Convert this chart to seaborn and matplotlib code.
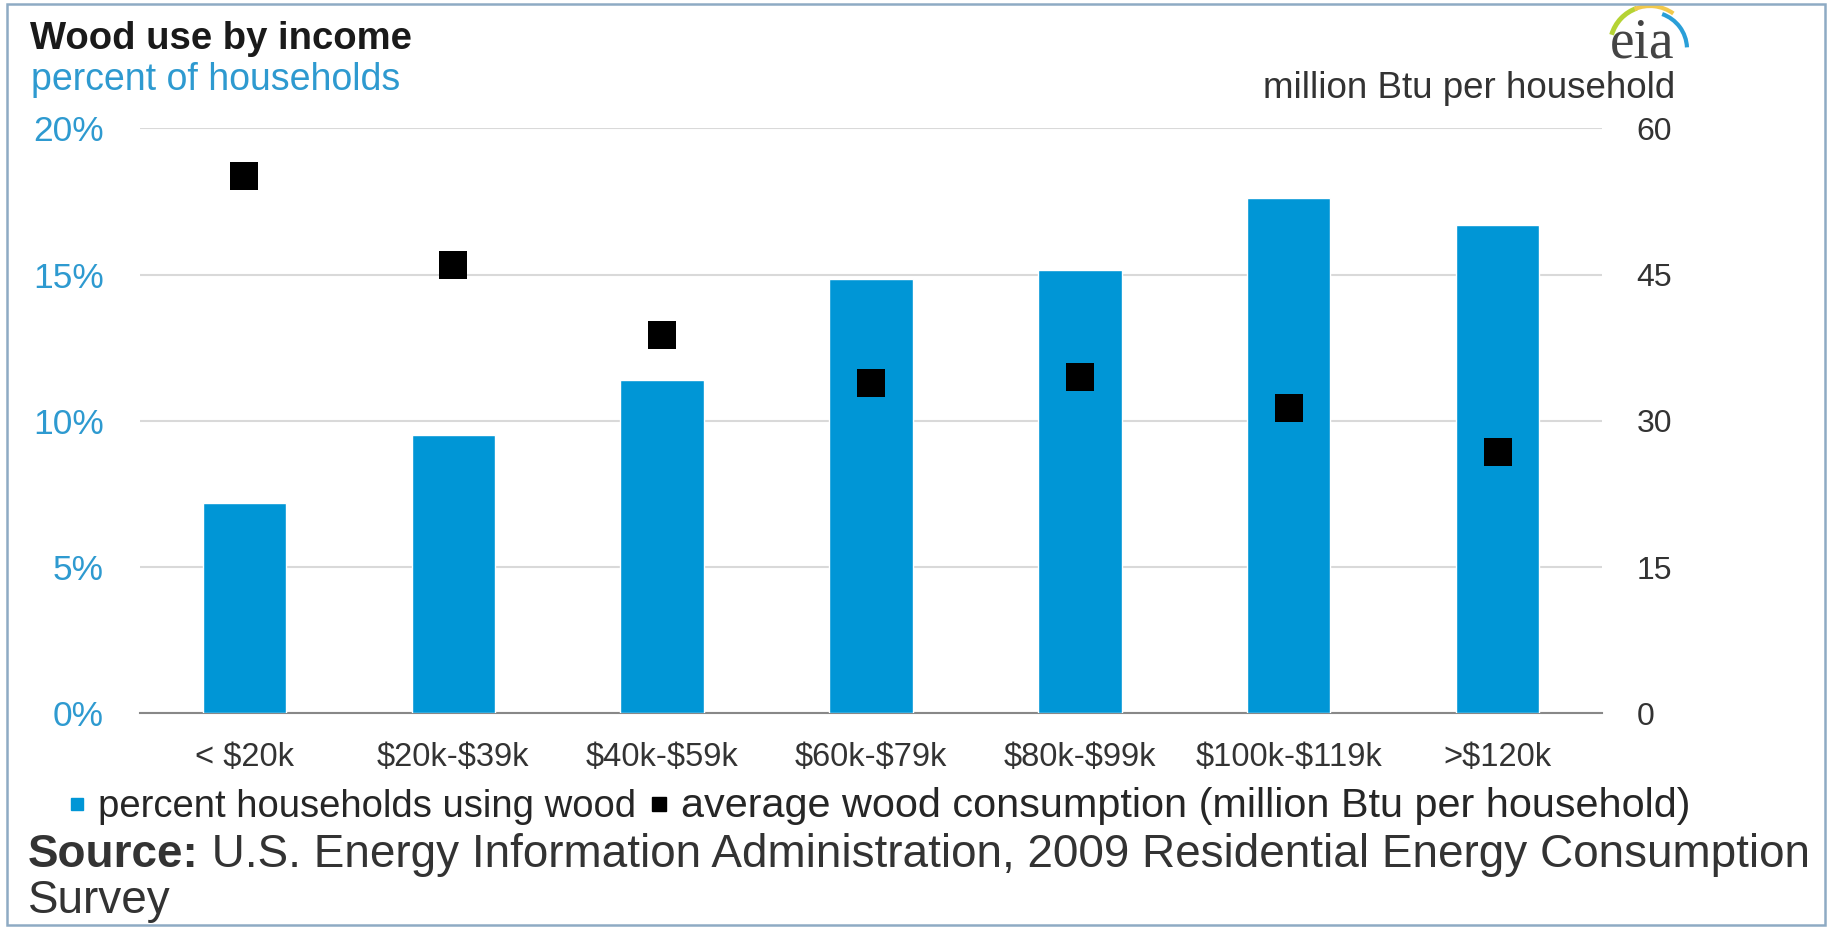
import numpy as np
import matplotlib
matplotlib.use("Agg")
import matplotlib.pyplot as plt
import seaborn as sns
from matplotlib.lines import Line2D
from matplotlib.patches import Rectangle, Arc

# ---------------- data ----------------
categories = ["< $20k", "$20k-$39k", "$40k-$59k", "$60k-$79k",
              "$80k-$99k", "$100k-$119k", ">$120k"]
pct_households = [7.2, 9.5, 11.4, 14.85, 15.15, 17.6, 16.7]          # percent of households
avg_consumption = [55.1, 46.0, 38.8, 33.9, 34.5, 31.3, 26.8]         # million Btu per household
left_ticks = [0, 5, 10, 15, 20]
left_labels = ["0%", "5%", "10%", "15%", "20%"]
right_ticks = [0, 15, 30, 45, 60]
right_labels = ["0", "15", "30", "45", "60"]
legend_labels = ["percent households using wood",
                 "average wood consumption (million Btu per household)"]

# ---------------- style ----------------
sns.set_theme(style="white")
plt.rcParams['font.family'] = ['Liberation Sans', 'DejaVu Sans']
plt.rcParams['text.parse_math'] = False

W, H = 1831, 927
DPI = 100
BLUE = "#0096D6"
LBLUE = "#2E9AD0"
DARK = "#333333"

fig = plt.figure(figsize=(W / DPI, H / DPI), dpi=DPI)
fig.patch.set_facecolor("white")

def fx(px):
    return px / W

def fy(py):
    return 1 - py / H

ax_left, ax_right, ax_top, ax_bot = 140, 1602, 128.3, 713.3
ax = fig.add_axes([fx(ax_left), fy(ax_bot), fx(ax_right - ax_left), (ax_bot - ax_top) / H])

sns.barplot(x=categories, y=pct_households, order=categories, ax=ax,
            color=BLUE, saturation=1, width=0.4, zorder=3)
ax.set_xlim(-0.5, len(categories) - 0.5)
ax.set_ylim(0, 20)
ax.set_xlabel("")
ax.set_ylabel("")

ax.set_yticks(left_ticks)
ax.set_yticklabels(left_labels)
ax.tick_params(axis="y", length=0, pad=26, labelsize=25.5, labelcolor=LBLUE)
ax.tick_params(axis="x", which="major", length=0, pad=21, labelsize=23.5, labelcolor=DARK)
ax.set_xticks(np.arange(-0.5, len(categories), 1), minor=True)
ax.tick_params(axis="x", which="minor", length=7.5, width=1.4, color="#888888", direction="out")

ax.set_axisbelow(True)
ax.yaxis.grid(True, color="#d9d9d9", linewidth=1.5)
ax.xaxis.grid(False)
for s in ["top", "left", "right"]:
    ax.spines[s].set_visible(False)
ax.spines["bottom"].set_color("#888888")
ax.spines["bottom"].set_linewidth(1.5)

ax2 = ax.twinx()
sns.scatterplot(x=np.arange(len(categories)), y=avg_consumption, ax=ax2,
                marker="s", s=430, color="black", linewidth=0, legend=False, zorder=4)
ax2.set_ylim(0, 60)
ax2.set_xlim(-0.5, len(categories) - 0.5)
ax2.set_yticks(right_ticks)
ax2.set_yticklabels(right_labels)
ax2.set_ylabel("")
ax2.tick_params(axis="y", length=0, pad=25, labelsize=23, labelcolor=DARK)
for s in ax2.spines.values():
    s.set_visible(False)
ax2.grid(False)

# ---------------- titles ----------------
fig.text(fx(30), fy(49), "Wood use by income", fontsize=27.5, fontweight="bold",
         color="#1a1a1a", ha="left", va="baseline")
fig.text(fx(31), fy(90), "percent of households", fontsize=27, color=LBLUE,
         ha="left", va="baseline")
fig.text(fx(1675), fy(98), "million Btu per household", fontsize=26.5, color=DARK,
         ha="right", va="baseline")

# eia logo
fig.text(fx(1642), fy(57), "eia", fontsize=40, color="#444444", ha="center",
         va="baseline", family=["Liberation Serif", "DejaVu Serif"])
cx, cy, r = 1650, 46, 40
fig.add_artist(Arc((fx(cx), fy(cy)), 2 * r / W, 2 * r / H, theta1=100, theta2=150,
                   color="#b5d334", lw=3.5, transform=fig.transFigure))
fig.add_artist(Arc((fx(cx), fy(cy)), 2 * r / W, 2 * r / H, theta1=70, theta2=102,
                   color="#f2c94c", lw=3.0, transform=fig.transFigure))
fig.add_artist(Arc((fx(cx), fy(cy + 3)), 2 * (r - 3) / W, 2 * (r - 3) / H, theta1=5, theta2=80,
                   color="#2a9fd8", lw=3.0, transform=fig.transFigure))

# ---------------- legend ----------------
handles = [
    Line2D([], [], marker="s", linestyle="none", color=BLUE, markersize=8.5, label=legend_labels[0]),
    Line2D([], [], marker="s", linestyle="none", color="black", markersize=10, label=legend_labels[1]),
]
leg = fig.legend(handles=handles, loc="center left", bbox_to_anchor=(fx(66), fy(806)),
                 ncol=2, frameon=False, fontsize=27.5, handlelength=0.55, handletextpad=0.3,
                 columnspacing=0.3, borderpad=0, borderaxespad=0)
leg_texts = leg.get_texts()
for t in leg_texts:
    t.set_color("#262626")
leg_texts[1].set_fontsize(29.8)

# ---------------- source ----------------
src_fs = 33
t1 = fig.text(fx(28), fy(867), "Source:", fontsize=src_fs, fontweight="bold",
              color="#333333", ha="left", va="baseline")
fig.canvas.draw()
bb = t1.get_window_extent(renderer=fig.canvas.get_renderer())
fig.text(bb.x1 / W, fy(867), " U.S. Energy Information Administration, 2009 Residential Energy Consumption",
         fontsize=src_fs, color="#333333", ha="left", va="baseline")
fig.text(fx(28), fy(913), "Survey", fontsize=src_fs, color="#333333", ha="left", va="baseline")

# frame border
fig.add_artist(Rectangle((fx(7), fy(925)), fx(1825 - 7), (925 - 4) / H, fill=False,
                         edgecolor="#8eabc4", lw=1.8, transform=fig.transFigure))

fig.savefig("out.png", dpi=DPI, facecolor="white")
